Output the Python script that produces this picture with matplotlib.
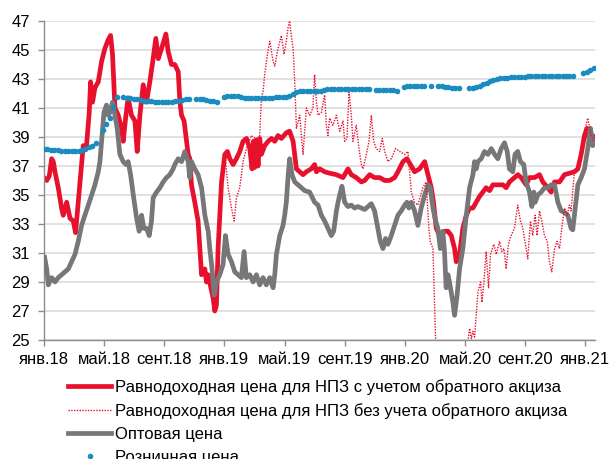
import matplotlib
matplotlib.use("Agg")
import matplotlib.pyplot as plt
import numpy as np

plt.rcParams['font.family'] = ['Liberation Sans', 'DejaVu Sans']

# x in months since Jan 2018
tick_pos = [0, 4, 8, 12, 16, 20, 24, 28, 32, 36]
tick_labels = ['янв.18', 'май.18', 'сент.18', 'янв.19', 'май.19',
               'сент.19', 'янв.20', 'май.20', 'сент.20', 'янв.21']

# equal-return price with reverse excise (solid red)
red_x = [0.0, 0.18, 0.35, 0.51, 0.62, 0.73, 0.95, 1.17, 1.28, 1.51, 1.73, 1.95, 2.10, 2.28,
         2.50, 2.61, 2.83, 3.01, 3.10, 3.23, 3.39, 3.61, 3.83, 4.05, 4.27, 4.43, 4.56, 4.72,
         4.94, 5.16, 5.27, 5.45, 5.60, 5.82, 6.05, 6.20, 6.38, 6.60, 6.82, 7.04, 7.26, 7.44,
         7.60, 7.82, 8.11, 8.26, 8.48, 8.70, 8.93, 9.04, 9.15, 9.32, 9.48, 9.59, 9.70, 9.81,
         10.03, 10.25, 10.37, 10.48, 10.70, 10.81, 10.92, 11.10, 11.25, 11.36, 11.47, 11.58,
         11.81, 12.03, 12.20, 12.36, 12.58, 12.80, 13.02, 13.24, 13.47, 13.69, 13.84, 13.93,
         14.02, 14.13, 14.24, 14.35, 14.46, 14.68, 14.91, 15.13, 15.35, 15.57, 15.79, 16.13,
         16.34, 16.57, 16.79, 17.01, 17.23, 17.45, 17.78, 18.00, 18.12, 18.34, 18.67, 19.00,
         19.45, 19.89, 20.11, 20.22, 20.44, 20.77, 21.11, 21.33, 21.66, 21.99, 22.33, 22.66,
         22.99, 23.32, 23.54, 23.88, 24.14, 24.43, 24.65, 24.98, 25.32, 25.54, 25.76, 25.91,
         26.09, 26.31, 26.64, 26.87, 27.09, 27.31, 27.42, 27.64, 27.86, 28.09, 28.31, 28.53,
         28.75, 28.97, 29.19, 29.41, 29.64, 29.86, 30.19, 30.52, 30.74, 30.96, 31.30, 31.52,
         31.74, 32.07, 32.29, 32.63, 32.96, 33.18, 33.51, 33.73, 33.96, 34.29, 34.62, 34.95,
         35.28, 35.51, 35.73, 35.95, 36.12, 36.28, 36.50, 36.61]
red_y = [36.2, 36.0, 36.3, 37.5, 37.3, 36.6, 35.5, 34.1, 33.6, 34.5, 33.4, 33.2, 32.4, 34.5,
         37.1, 38.4, 38.4, 40.7, 42.8, 41.4, 42.4, 42.8, 44.2, 45.1, 45.7, 46.0, 44.7, 41.0,
         40.5, 39.6, 38.7, 40.5, 41.7, 40.5, 40.1, 38.0, 40.5, 42.6, 41.4, 42.8, 44.4, 45.8,
         44.4, 45.1, 46.1, 44.9, 44.0, 44.0, 43.5, 41.4, 40.5, 40.1, 38.7, 37.8, 37.5, 35.7,
         34.5, 33.2, 31.3, 29.5, 29.9, 29.0, 29.5, 28.6, 27.9, 27.0, 27.4, 31.3,
         35.9, 37.8, 38.0, 37.5, 37.1, 37.5, 38.0, 38.7, 38.9, 38.2, 36.8, 38.7,
         36.9, 38.8, 37.0, 38.9, 37.8, 38.4, 38.7, 38.9, 38.7, 39.1, 38.9, 39.3,
         39.4, 38.7, 36.8, 36.6, 36.4, 36.6, 36.8, 37.1, 36.6, 36.8, 36.6, 36.5,
         36.4, 36.2, 36.6, 36.8, 36.4, 36.2, 35.9, 36.0, 36.4, 36.2, 36.2, 36.0,
         36.0, 36.2, 36.6, 37.3, 37.5, 37.0, 36.6, 36.8, 37.3, 36.4, 35.5, 34.5,
         32.7, 32.2, 32.5, 32.5, 32.2, 31.3, 30.4, 30.9, 32.7, 33.6, 34.1, 34.1,
         34.5, 34.9, 35.2, 35.5, 35.3, 35.7, 35.7, 35.7, 35.5, 35.9, 36.2, 36.4,
         36.2, 35.7, 36.2, 36.2, 36.4, 35.9, 35.5, 35.2, 35.9, 35.9, 36.4, 36.5,
         36.6, 36.8, 37.8, 39.1, 39.6, 38.8, 39.1, 38.7]

# equal-return price without reverse excise (dotted red)
dot_x = [12.03, 12.25, 12.47, 12.65, 12.80, 13.02, 13.24, 13.47, 13.80, 14.13, 14.35, 14.46,
         14.57, 14.68, 14.86, 15.02, 15.24, 15.35, 15.57, 15.79, 15.97, 16.12, 16.23, 16.34,
         16.45, 16.57, 16.68, 16.79, 17.01, 17.12, 17.23, 17.45, 17.67, 17.89, 18.00, 18.12,
         18.23, 18.45, 18.67, 18.78, 18.89, 19.00, 19.22, 19.45, 19.67, 19.89, 20.00, 20.15,
         20.29, 20.44, 20.55, 20.77, 20.95, 21.11, 21.22, 21.44, 21.62, 21.77, 21.93, 22.10,
         22.33, 22.50, 22.66, 22.88, 23.10, 23.39, 23.66, 23.99, 24.21, 24.43, 24.65, 24.87,
         25.20, 25.42, 25.60, 25.69, 25.87, 26.05, 26.20, 27.00, 27.80, 28.10, 28.20, 28.31,
         28.42, 28.53, 28.64, 28.75, 28.86, 29.04, 29.13, 29.26, 29.41, 29.57, 29.70, 29.92,
         30.08, 30.30, 30.45, 30.59, 30.74, 30.89, 31.07, 31.29, 31.51, 31.69, 31.85, 32.07,
         32.18, 32.36, 32.51, 32.67, 32.80, 32.96, 33.11, 33.29, 33.47, 33.62, 33.78, 33.96,
         34.13, 34.29, 34.44, 34.62, 34.80, 34.95, 35.06, 35.28, 35.51, 35.73, 35.95, 36.17,
         36.39, 36.57]
dot_y = [37.8, 35.5, 34.1, 33.2, 34.8, 35.5, 37.3, 38.2, 39.1, 38.8, 39.1, 41.7,
         42.1, 43.3, 44.7, 45.6, 44.2, 43.9, 45.1, 46.0, 44.7, 45.6, 46.5, 47.0,
         46.0, 45.1, 42.8, 39.6, 40.5, 39.1, 37.8, 41.0, 40.5, 41.0, 43.3, 41.4,
         40.5, 40.7, 41.9, 39.8, 39.1, 40.3, 39.8, 40.5, 39.4, 40.1, 38.7, 38.9,
         42.1, 40.5, 38.7, 39.8, 38.2, 37.1, 36.8, 37.8, 38.7, 40.5, 38.7, 38.2,
         38.0, 38.9, 38.0, 37.3, 37.5, 38.2, 38.0, 37.8, 38.0, 35.2, 34.5, 34.3,
         35.5, 35.9, 32.7, 31.8, 31.3, 25.0, 22.5, 22.0, 23.0, 24.5, 24.9, 25.8,
         25.1, 25.6, 25.2, 26.7, 28.3, 29.0, 27.6, 29.0, 31.1, 28.6, 30.9, 31.6,
         30.9, 31.8, 31.1, 31.3, 29.9, 31.6, 32.2, 32.7, 34.3, 33.2, 32.7, 31.3,
         30.6, 33.2, 32.2, 33.6, 32.2, 33.9, 33.2, 32.2, 31.8, 30.4, 29.7, 31.3,
         31.8, 31.3, 32.7, 34.1, 33.6, 34.3, 33.9, 36.6, 36.8, 37.8, 39.4, 40.3,
         39.1, 38.7]

# wholesale price (gray)
gray_x = [0.04, 0.18, 0.29, 0.51, 0.73, 0.95, 1.17, 1.40, 1.62, 1.84, 2.06, 2.28, 2.50, 2.72,
          2.95, 3.17, 3.39, 3.61, 3.72, 3.83, 3.99, 4.16, 4.27, 4.39, 4.56, 4.72, 4.87, 5.05,
          5.27, 5.45, 5.60, 5.76, 5.94, 6.16, 6.33, 6.49, 6.64, 6.82, 7.00, 7.15, 7.26, 7.49,
          7.71, 7.93, 8.15, 8.37, 8.59, 8.70, 8.93, 9.15, 9.37, 9.59, 9.70, 9.81, 10.03, 10.25,
          10.48, 10.70, 10.92, 11.03, 11.18, 11.32, 11.47, 11.69, 11.91, 12.07, 12.25, 12.47,
          12.69, 12.91, 13.13, 13.31, 13.46, 13.69, 13.91, 14.13, 14.35, 14.57, 14.79, 15.02,
          15.24, 15.35, 15.46, 15.68, 15.90, 16.01, 16.12, 16.23, 16.34, 16.50, 16.68, 16.90,
          17.12, 17.34, 17.67, 18.00, 18.23, 18.45, 18.67, 18.89, 19.11, 19.27, 19.45, 19.56,
          19.67, 19.82, 20.00, 20.22, 20.44, 20.66, 20.88, 21.11, 21.33, 21.55, 21.77, 21.99,
          22.21, 22.37, 22.55, 22.72, 22.88, 23.10, 23.32, 23.54, 23.76, 23.99, 24.14, 24.27,
          24.43, 24.65, 24.87, 25.09, 25.32, 25.54, 25.69, 25.87, 26.05, 26.20, 26.36, 26.53,
          26.64, 26.75, 26.87, 26.97, 27.20, 27.31, 27.48, 27.64, 27.86, 28.09, 28.31, 28.53,
          28.64, 28.75, 28.86, 29.08, 29.30, 29.53, 29.75, 29.97, 30.19, 30.41, 30.63, 30.81,
          30.96, 31.18, 31.33, 31.51, 31.69, 31.91, 32.07, 32.29, 32.45, 32.58, 32.67, 32.85,
          33.07, 33.29, 33.51, 33.73, 33.96, 34.18, 34.40, 34.62, 34.84, 35.06, 35.17, 35.28,
          35.51, 35.73, 35.95, 36.17, 36.35, 36.50, 36.61]
gray_y = [30.7, 29.9, 28.8, 29.3, 29.0, 29.3, 29.5, 29.7, 29.9, 30.4, 30.9, 31.8, 32.9, 33.6,
          34.3, 35.0, 35.7, 36.6, 37.3, 38.7, 40.7, 41.2, 40.5, 40.7, 41.4, 40.5, 39.6, 37.8,
          37.3, 37.1, 37.3, 36.4, 35.0, 33.4, 32.5, 33.6, 32.7, 32.7, 32.2, 33.2, 34.8, 35.2,
          35.5, 35.9, 36.2, 36.4, 36.8, 37.1, 37.5, 37.3, 38.0, 37.3, 36.2, 37.3, 36.8, 36.4,
          35.5, 33.6, 32.5, 31.3, 29.9, 28.1, 29.0, 29.5, 30.2, 32.2, 30.9, 30.4,
          29.7, 29.5, 29.3, 31.1, 29.3, 29.5, 29.0, 29.5, 28.8, 29.3, 28.8, 29.3,
          28.6, 29.5, 30.9, 32.2, 32.9, 33.6, 34.5, 36.2, 37.5, 36.4, 35.9, 35.7,
          35.5, 35.3, 35.2, 34.5, 34.3, 33.6, 33.2, 32.7, 32.2, 32.5, 33.9, 34.5,
          35.0, 35.6, 34.5, 34.2, 34.3, 34.1, 34.2, 34.1, 34.0, 34.2, 34.4, 33.9,
          32.7, 31.8, 31.3, 32.0, 31.6, 32.2, 32.9, 33.6, 33.9, 34.3, 34.5, 34.1,
          34.5, 33.9, 32.9, 34.1, 35.0, 35.7, 35.5, 34.1, 33.2, 32.7, 31.3, 32.5,
          31.1, 28.6, 29.5, 29.0, 27.6, 26.7, 28.1, 29.9, 31.3, 33.6, 35.5, 36.4,
          37.3, 36.8, 37.3, 37.5, 38.0, 37.8, 38.2, 37.8, 37.5, 38.2, 38.6, 38.0,
          36.8, 36.6, 37.8, 38.0, 37.3, 37.1, 35.9, 35.2, 34.2, 35.2, 34.5, 35.0,
          35.2, 35.5, 35.5, 35.7, 35.7, 34.5, 33.9, 33.8, 33.6, 32.7, 32.6, 33.6,
          35.7, 36.2, 36.8, 38.2, 39.6, 38.4, 38.7]

# retail price (blue dots), one value per week from 1 Jan 2018, nan = no data
nan = np.nan
retail = [38.2, 38.15, 38.1, 38.1, 38.1, 38.05, 38.05, 38.05, 38.05, 38.05, 38.05, 38.1,
          38.15, 38.3, 38.4, 38.6, nan, 39.5, 39.9, 40.3, 41.1, 41.75,
          nan, 41.75, 41.7, 41.7, 41.65, 41.6, 41.55, 41.5, 41.45, 41.45, 41.4,
          41.4, 41.4, 41.4, 41.4, 41.4, 41.45, 41.5, 41.55, 41.6, 41.6,
          nan, 41.65, 41.6, 41.6, 41.55, 41.5, 41.45, 41.4,
          nan, 41.75, 41.8, 41.85, 41.8, 41.8, 41.75, 41.7, 41.7, 41.7,
          41.7, 41.7, 41.7, 41.7, 41.7, 41.7, 41.75, 41.75, 41.75, 41.75, 41.8, 41.95, 42.1, 42.2,
          42.2, 42.2, 42.2, 42.2, 42.2, 42.2, 42.25, 42.3, 42.3, 42.3, 42.3, 42.3, 42.3, 42.3,
          42.3, 42.3, 42.3, 42.3, 42.3, 42.3,
          nan, 42.25, 42.25, 42.25, 42.25, 42.25, 42.25, 42.2,
          nan, 42.45, 42.5, 42.5, 42.5, 42.5, 42.55, 42.55,
          nan, 42.55, nan, 42.55, 42.5, 42.45, 42.45, 42.4, 42.35, 42.35,
          nan, nan, 42.4, 42.4, 42.45, 42.55, 42.65, 42.75, 42.85, 42.95, 43.0, 43.05,
          43.1, 43.1, 43.15, 43.15, 43.15, 43.15, 43.15, 43.2, 43.2, 43.2, 43.2, 43.2,
          43.2, 43.2, 43.2, 43.2, 43.2, 43.2, 43.2, 43.2, 43.2,
          nan, nan, 43.4, 43.5, 43.65, 43.75]
retail_x = np.arange(len(retail)) * 7 / 30.44

red_c = '#e8112d'
gray_c = '#77777a'
blue_c = '#1a8cbf'

fig = plt.figure(figsize=(6.1, 4.59), dpi=100)
ax = fig.add_axes([0.0721, 0.2593, 0.9033, 0.695])

ax.plot(red_x, red_y, color=red_c, lw=3.4, zorder=2,
        label='Равнодоходная цена для НПЗ с учетом обратного акциза')
ax.plot(dot_x, dot_y, color=red_c, lw=1.0, ls=(0, (1, 1)), zorder=4,
        label='Равнодоходная цена для НПЗ без учета обратного акциза')
ax.plot(gray_x, gray_y, color=gray_c, lw=3.4, zorder=3, label='Оптовая цена')
ax.plot(retail_x, retail, ls='none', marker='o', ms=3.0, color=blue_c, zorder=5,
        label='Розничная цена')

ax.set_xlim(0, 36.65)
ax.set_ylim(25, 47)
ax.set_yticks(range(25, 48, 2))
ax.set_xticks(tick_pos)
ax.set_xticklabels(tick_labels)
ax.grid(axis='y', color='#d9d9d9', lw=1.1)
ax.set_axisbelow(True)
for s in ['top', 'right']:
    ax.spines[s].set_visible(False)
for s in ['left', 'bottom']:
    ax.spines[s].set_color('#8c8c8c')
    ax.spines[s].set_linewidth(1.0)
ax.tick_params(axis='both', colors='#8c8c8c', labelcolor='black', labelsize=12,
               length=4, width=1.0)
ax.tick_params(axis='y', pad=6)
ax.tick_params(axis='x', pad=5)

fig.legend(loc='upper left', bbox_to_anchor=(68 / 610, 1 - 379 / 459), frameon=False,
           fontsize=12, handlelength=2.6, handletextpad=0.2, labelspacing=0.48,
           borderpad=0, borderaxespad=0, numpoints=1)

fig.savefig('out.png', dpi=100)
